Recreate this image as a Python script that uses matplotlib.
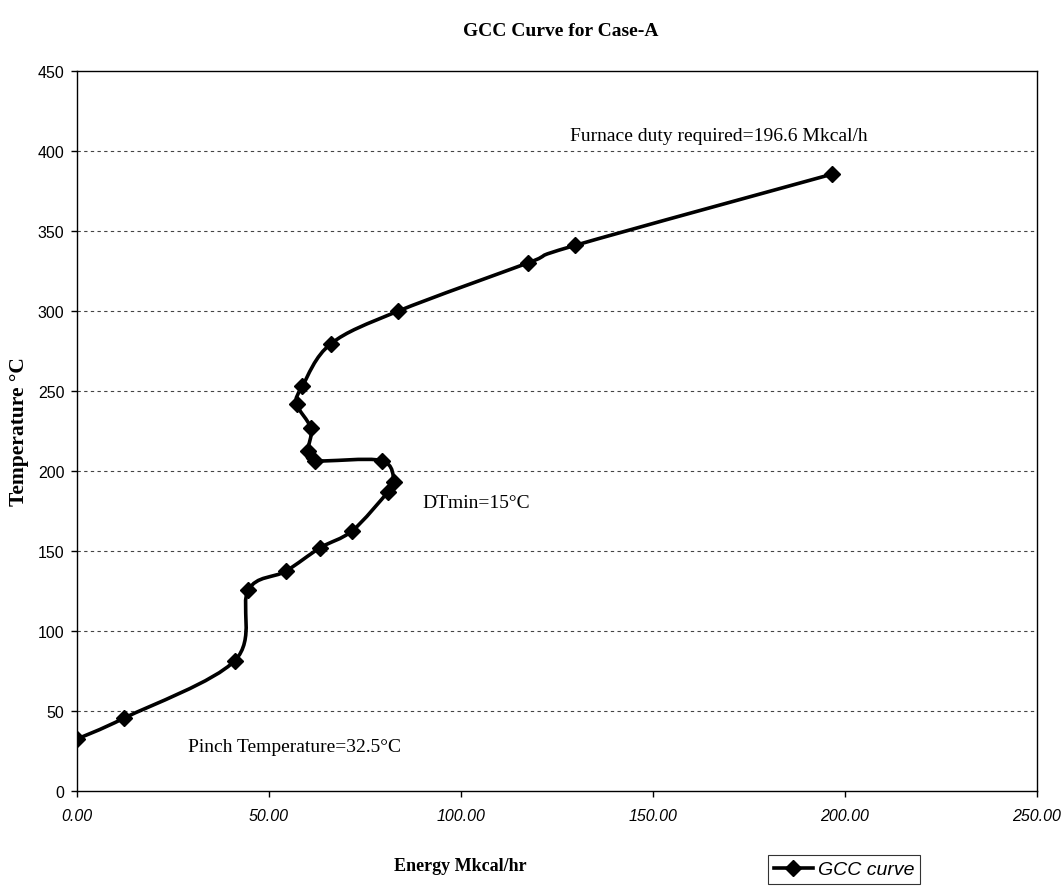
import numpy as np
import matplotlib
matplotlib.use("Agg")
import matplotlib.pyplot as plt
from matplotlib.path import Path
from matplotlib.patches import PathPatch
from matplotlib.lines import Line2D

# ---- data ----
energy = [0.0, 12.3, 41.1, 44.6, 54.3, 63.3, 71.7, 81.0, 82.5, 79.3, 62.0,
          60.2, 60.9, 57.2, 58.7, 66.1, 83.7, 117.4, 129.7, 196.6]
temperature = [32.5, 45.6, 81.5, 125.6, 137.3, 152.0, 162.7, 187.0, 193.0, 206.5,
               206.5, 212.7, 226.7, 242.0, 253.0, 279.5, 300.0, 330.0, 341.0, 385.5]
x_ticks = [0, 50, 100, 150, 200, 250]
y_ticks = [0, 50, 100, 150, 200, 250, 300, 350, 400, 450]
title = "GCC Curve for Case-A"
x_label = "Energy Mkcal/hr"
y_label = "Temperature °C"
series_name = "GCC curve"
annotations = [
    ("Furnace duty required=196.6 Mkcal/h", 128.4, 409.5),
    ("DTmin=15°C", 90.0, 180.5),
    ("Pinch Temperature=32.5°C", 29.0, 28.0),
]

W, H = 1064, 895
fig = plt.figure(figsize=(W / 100, H / 100), dpi=100)
ax = fig.add_axes([77 / W, 1 - 792 / H, (1037 - 77) / W, (792 - 72) / H])

ax.set_xlim(0, 250)
ax.set_ylim(0, 450)

# smoothed line (Excel-style smoothing via cubic Bezier segments)
pts = np.column_stack([energy, temperature])
n = len(pts)
verts = [pts[0]]
codes = [Path.MOVETO]
for i in range(n - 1):
    p0 = pts[i - 1] if i > 0 else pts[i]
    p1 = pts[i]
    p2 = pts[i + 1]
    p3 = pts[i + 2] if i + 2 < n else pts[i + 1]
    c1 = p1 + (p2 - p0) / 6.0
    c2 = p2 - (p3 - p1) / 6.0
    verts += [c1, c2, p2]
    codes += [Path.CURVE4] * 3
patch = PathPatch(Path(verts, codes), facecolor="none", edgecolor="black",
                  lw=2.6, capstyle="round", joinstyle="round", zorder=3)
ax.add_patch(patch)
ax.plot(energy, temperature, linestyle="none", marker="D", markersize=8,
        color="black", zorder=4)

# grid
for yv in y_ticks[1:-1]:
    ax.axhline(yv, color="#444444", lw=0.8, linestyle=(0, (3, 3)), zorder=1)

ax.set_xticks(x_ticks)
ax.set_xticklabels([f"{v:.2f}" for v in x_ticks], fontfamily="Liberation Sans",
                   fontstyle="italic", fontsize=11.5)
ax.set_yticks(y_ticks)
ax.set_yticklabels([str(v) for v in y_ticks], fontfamily="Liberation Sans",
                   fontsize=11.5)
ax.tick_params(direction="out", length=4, width=1, color="black", pad=5)
ax.tick_params(axis="x", pad=8)
for s in ax.spines.values():
    s.set_color("black")
    s.set_linewidth(1.0)

ax.set_xlabel(x_label, fontfamily="Liberation Serif", fontweight="bold", fontsize=13)
ax.xaxis.set_label_coords((460 - 77) / 960, (792 - 858) / 720)
fig.text(19 / W, 1 - 432 / H, y_label, rotation=90, ha="center", va="center",
         fontfamily="Liberation Serif", fontweight="bold", fontsize=15.5)

fig.text(561 / W, 1 - 31 / H, title, ha="center", va="center",
         fontfamily="Liberation Serif", fontweight="bold", fontsize=14)

for txt, xv, yv in annotations:
    ax.text(xv, yv, txt, ha="left", va="center", fontfamily="Liberation Serif",
            fontsize=14, color="black")

handle = Line2D([], [], color="black", lw=2.6, marker="D", markersize=8)
leg = fig.legend([handle], [series_name], loc="upper left",
                 bbox_to_anchor=(768 / W, 1 - 856 / H), borderaxespad=0.0,
                 frameon=True, fancybox=False, edgecolor="black",
                 handlelength=2.0, handletextpad=0.25, borderpad=0.3,
                 prop={"family": "Liberation Sans", "style": "italic", "size": 14})
leg.get_frame().set_linewidth(0.8)

fig.savefig("out.png", dpi=100, facecolor="white")
